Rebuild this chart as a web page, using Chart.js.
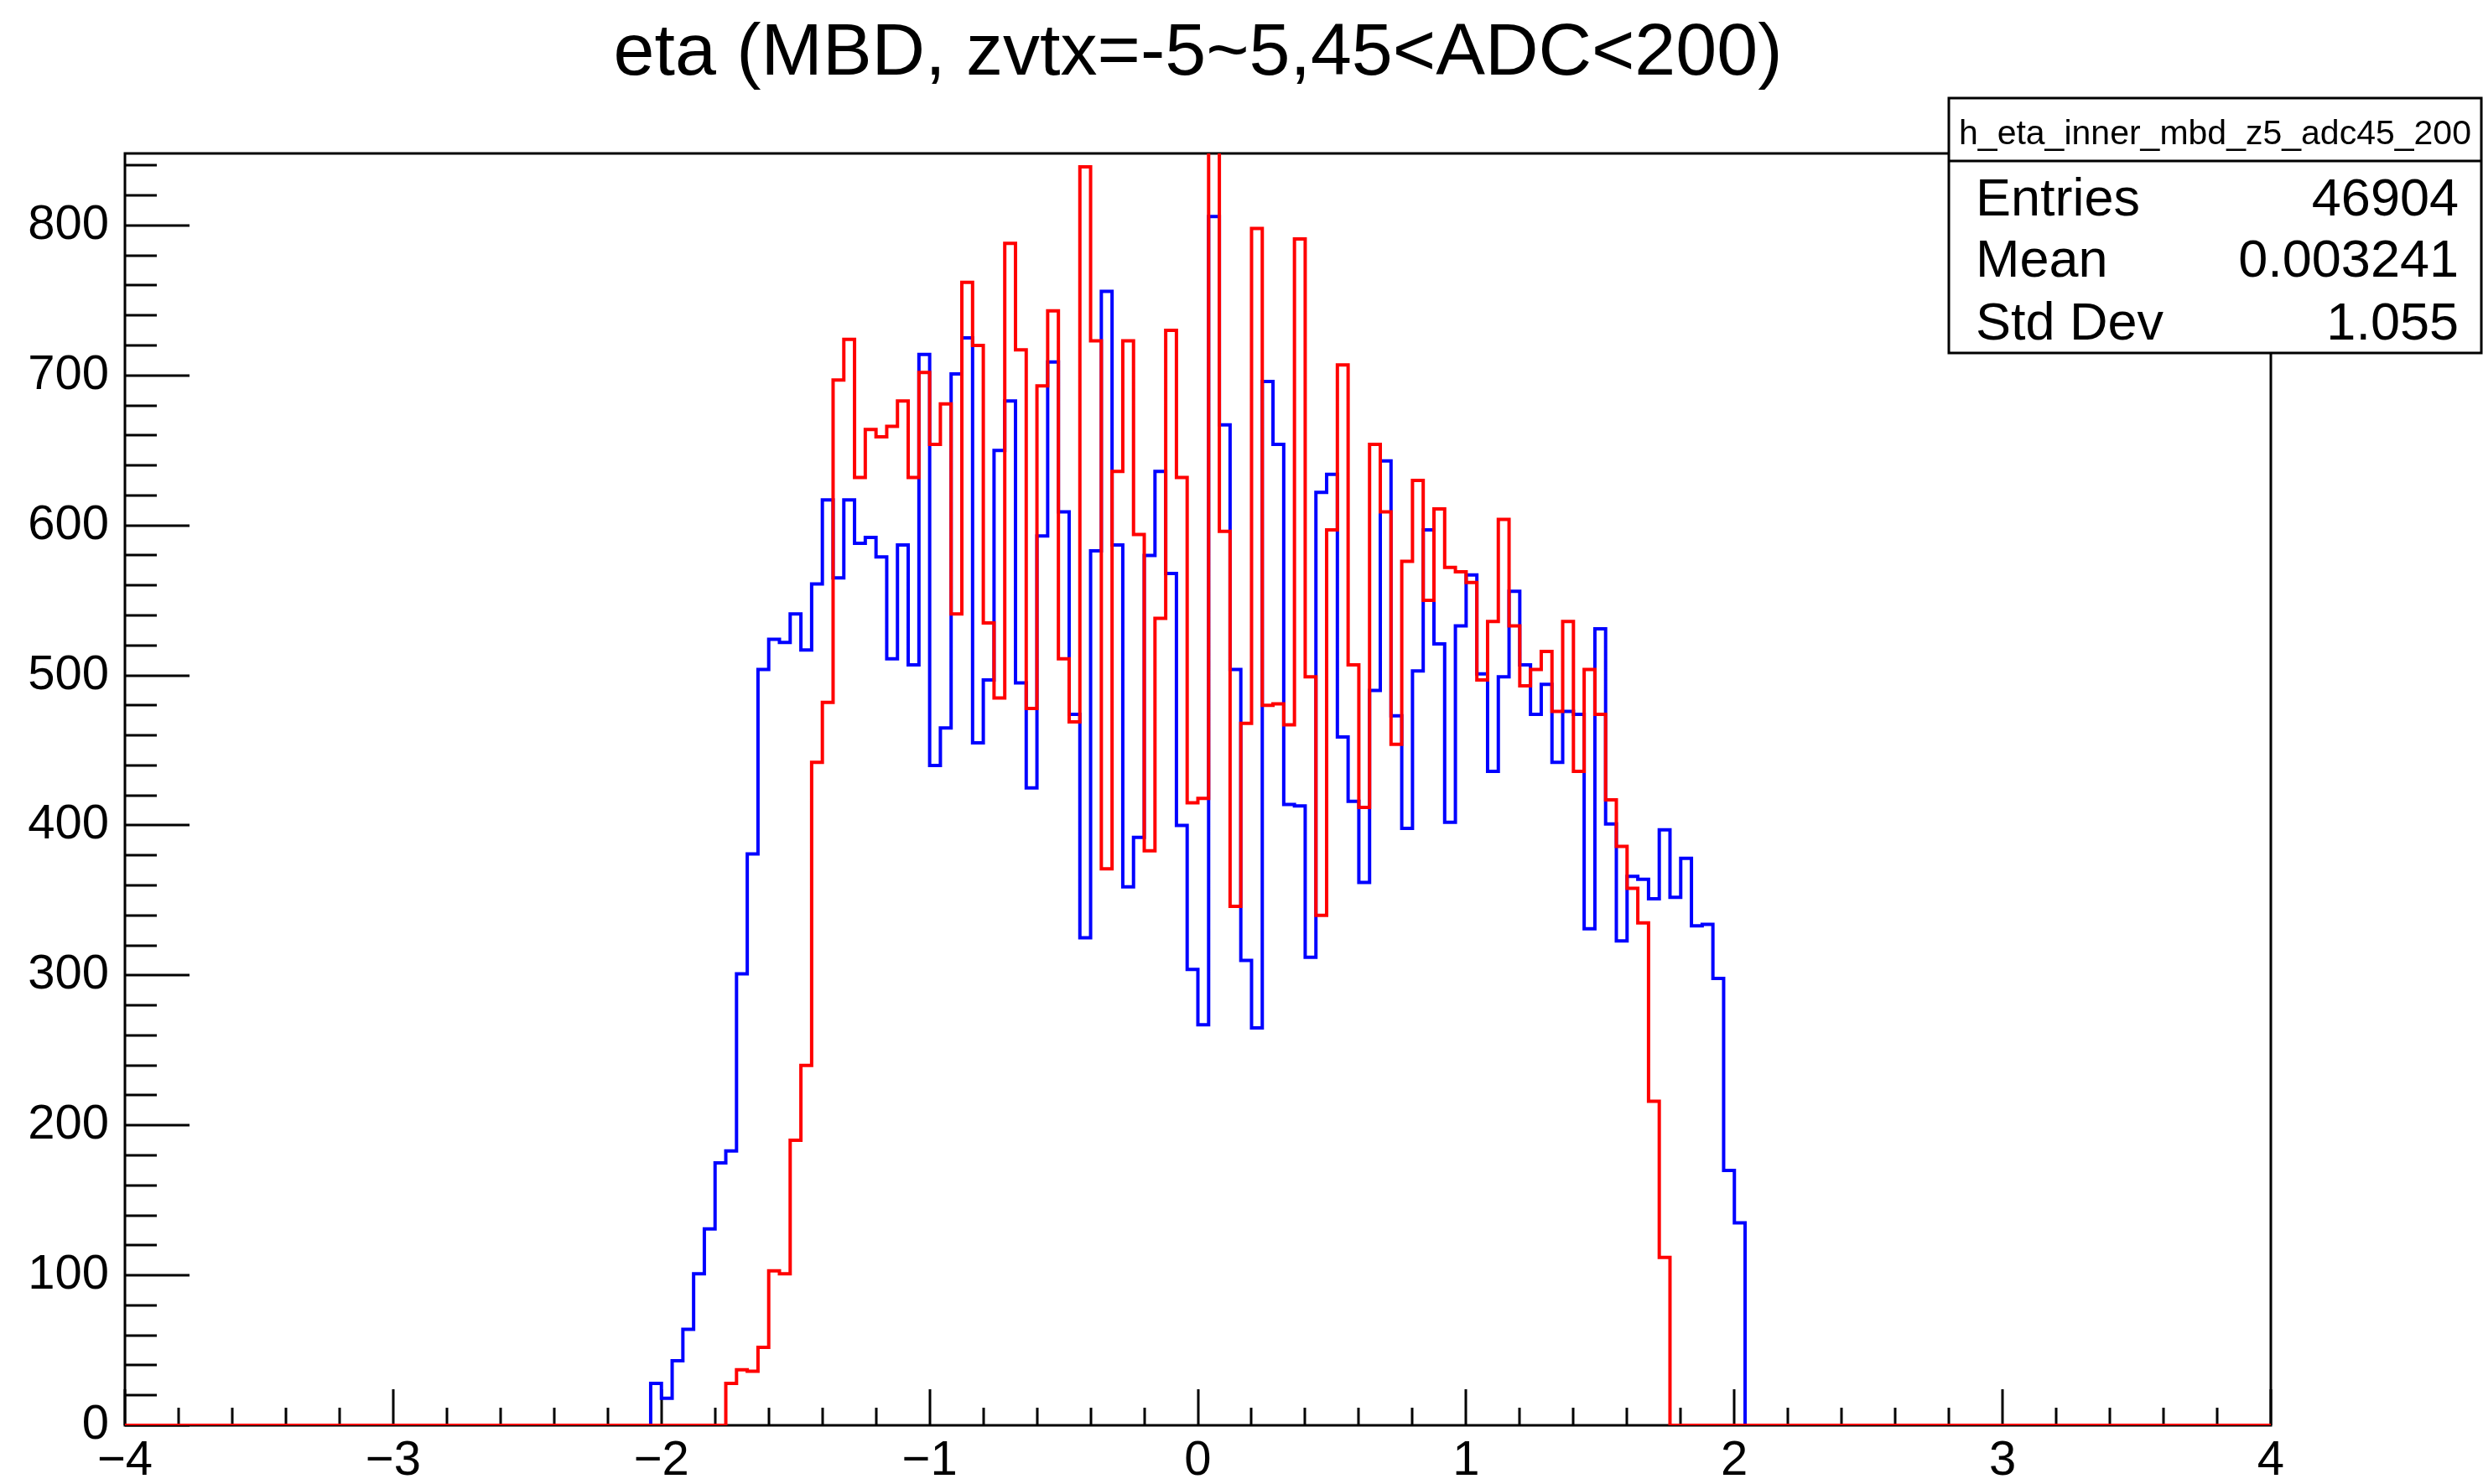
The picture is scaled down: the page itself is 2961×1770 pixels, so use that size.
<!DOCTYPE html>
<html>
<head>
<meta charset="utf-8">
<title>eta (MBD, zvtx=-5~5,45&lt;ADC&lt;200)</title>
<script src="https://cdn.jsdelivr.net/npm/chart.js@4.4.1/dist/chart.umd.min.js"></script>
<style>
  html, body { margin: 0; padding: 0; background: #ffffff; }
  canvas { display: block; }
</style>
</head>
<body>
<canvas id="eta" width="2961" height="1770"></canvas>
<script>
/* ROOT-style step histogram: two eta distributions, 200 bins on [-4, 4] */

const TITLE = 'eta (MBD, zvtx=-5~5,45<ADC<200)';
const HIST_NAME = 'h_eta_inner_mbd_z5_adc45_200';
const statLabels = ['Entries', 'Mean', 'Std Dev'];
const statValues = ['46904', '0.003241', '1.055'];

const X_MIN = -4;
const X_MAX = 4;
const BIN_WIDTH = 0.04;
const Y_MAX = 848;
const xTickValues = [-4, -3, -2, -1, 0, 1, 2, 3, 4];
const yTickValues = [0, 100, 200, 300, 400, 500, 600, 700, 800];

// blue histogram, first filled bin starts at eta = -2.04
const blueStart = -2.04;
const blueCounts = [
    28, 18, 43, 64, 101, 131, 175, 183, 301, 381,
    504, 524, 522, 541, 517, 561, 617, 565, 617, 588,
    592, 579, 511, 587, 507, 714, 440, 465, 701, 725,
    455, 497, 650, 683, 495, 425, 593, 709, 609, 474,
    325, 583, 756, 587, 359, 392, 580, 636, 568, 400,
    304, 267, 806, 667, 504, 310, 265, 696, 654, 414,
    413, 312, 622, 634, 459, 416, 362, 490, 643, 473,
    398, 503, 597, 521, 402, 533, 567, 501, 436, 499,
    556, 507, 474, 494, 442, 476, 474, 331, 531, 401,
    323, 366, 364, 351, 397, 352, 378, 333, 334, 298,
    170, 135
];

// red histogram, first filled bin starts at eta = -1.76
const redStart = -1.76;
const redCounts = [
    28, 37, 36, 52, 103, 101, 190, 240, 442, 482,
    697, 724, 632, 664, 659, 666, 683, 632, 702, 654,
    681, 541, 762, 720, 535, 485, 788, 717, 478, 693,
    743, 511, 469, 839, 723, 371, 636, 723, 594, 383,
    538, 730, 632, 415, 418, 880, 596, 346, 468, 798,
    480, 481, 467, 791, 499, 340, 597, 707, 507, 412,
    654, 609, 454, 576, 630, 550, 611, 572, 569, 562,
    497, 536, 604, 533, 493, 504, 516, 476, 536, 436,
    504, 474, 417, 386, 358, 335, 216, 112
];

const FONT = '"Liberation Sans", Arial, Helvetica, sans-serif';

// outline of a histogram: each bin contributes its left and right corner
function histOutline(start, counts) {
    const nBins = Math.round((X_MAX - X_MIN) / BIN_WIDTH);
    const offset = Math.round((start - X_MIN) / BIN_WIDTH);
    const pts = [];
    for (let i = 0; i < nBins; i++) {
        const c = counts[i - offset];
        const v = c === undefined ? 0 : c;
        pts.push({ x: X_MIN + i * BIN_WIDTH, y: v });
        pts.push({ x: X_MIN + (i + 1) * BIN_WIDTH, y: v });
    }
    return pts;
}

function minusSign(v) {
    return v < 0 ? '\u2212' + Math.abs(v) : String(v);
}

const rootFrame = {
    id: 'rootFrame',
    beforeDatasetsDraw(chart) {
        const ctx = chart.ctx;
        const a = chart.chartArea;
        const xs = chart.scales.x;
        const ys = chart.scales.y;
        ctx.save();
        ctx.strokeStyle = '#000';
        ctx.lineWidth = 3;
        ctx.strokeRect(a.left, a.top, a.right - a.left, a.bottom - a.top);

        ctx.beginPath();
        // x ticks every 0.2, long ones at integers
        for (let k = 0; k <= 40; k++) {
            const px = Math.round(xs.getPixelForValue(X_MIN + k * 0.2));
            const len = k % 5 === 0 ? 43 : 21;
            ctx.moveTo(px, a.bottom);
            ctx.lineTo(px, a.bottom - len);
        }
        // y ticks every 20, long ones every 100
        for (let k = 0; k * 20 <= Y_MAX; k++) {
            const py = Math.round(ys.getPixelForValue(k * 20));
            const len = k % 5 === 0 ? 77 : 38;
            ctx.moveTo(a.left, py);
            ctx.lineTo(a.left + len, py);
        }
        ctx.stroke();
        ctx.restore();
    },
    afterDraw(chart) {
        const ctx = chart.ctx;
        const a = chart.chartArea;
        ctx.save();
        ctx.fillStyle = '#000';

        // title
        ctx.font = '88px ' + FONT;
        ctx.textAlign = 'center';
        ctx.textBaseline = 'alphabetic';
        ctx.fillText(TITLE, (a.left + a.right) / 2, 89);

        // stats box
        const bx = 2324, by = 117, bw = chart.width - 2 - bx, bh = 421 - 117;
        ctx.fillStyle = '#fff';
        ctx.fillRect(bx, by, bw, bh);
        ctx.strokeStyle = '#000';
        ctx.lineWidth = 3;
        ctx.strokeRect(bx, by, bw, bh);
        ctx.beginPath();
        ctx.moveTo(bx, 192);
        ctx.lineTo(bx + bw, 192);
        ctx.stroke();

        ctx.fillStyle = '#000';
        ctx.font = '41px ' + FONT;
        ctx.textAlign = 'center';
        ctx.fillText(HIST_NAME, bx + bw / 2, 172);

        ctx.font = '63px ' + FONT;
        const rows = [257, 330, 405];
        statLabels.forEach((lab, i) => {
            ctx.textAlign = 'left';
            ctx.fillText(lab, 2356, rows[i]);
            ctx.textAlign = 'right';
            ctx.fillText(statValues[i], 2932, rows[i]);
        });
        ctx.restore();
    }
};

new Chart(document.getElementById('eta'), {
    type: 'line',
    data: {
        datasets: [
            {
                label: 'blue',
                data: histOutline(blueStart, blueCounts),
                borderColor: '#0000ff',
                borderWidth: 4,
                pointRadius: 0,
                tension: 0,
                fill: false,
                order: 2
            },
            {
                label: 'red',
                data: histOutline(redStart, redCounts),
                borderColor: '#ff0000',
                borderWidth: 4,
                pointRadius: 0,
                tension: 0,
                fill: false,
                order: 1
            }
        ]
    },
    options: {
        responsive: false,
        devicePixelRatio: 1,
        animation: false,
        parsing: false,
        layout: { padding: { top: 183, right: 253, left: 0, bottom: 0 } },
        plugins: {
            legend: { display: false },
            title: { display: false },
            tooltip: { enabled: false }
        },
        scales: {
            x: {
                type: 'linear',
                min: X_MIN,
                max: X_MAX,
                grid: { display: false, drawTicks: false },
                border: { display: false },
                afterFit(scale) { scale.height = 70; },
                afterBuildTicks(scale) {
                    scale.ticks = xTickValues.map(v => ({ value: v }));
                },
                ticks: {
                    autoSkip: false,
                    maxRotation: 0,
                    padding: 8,
                    color: '#000',
                    font: { family: FONT, size: 58 },
                    callback: v => minusSign(v)
                }
            },
            y: {
                type: 'linear',
                min: 0,
                max: Y_MAX,
                grid: { display: false, drawTicks: false },
                border: { display: false },
                afterFit(scale) { scale.width = 149; },
                afterBuildTicks(scale) {
                    scale.ticks = yTickValues.map(v => ({ value: v }));
                },
                ticks: {
                    padding: 19,
                    color: '#000',
                    font: { family: FONT, size: 58 },
                    callback: v => String(v)
                }
            }
        }
    },
    plugins: [rootFrame]
});
</script>
</body>
</html>
